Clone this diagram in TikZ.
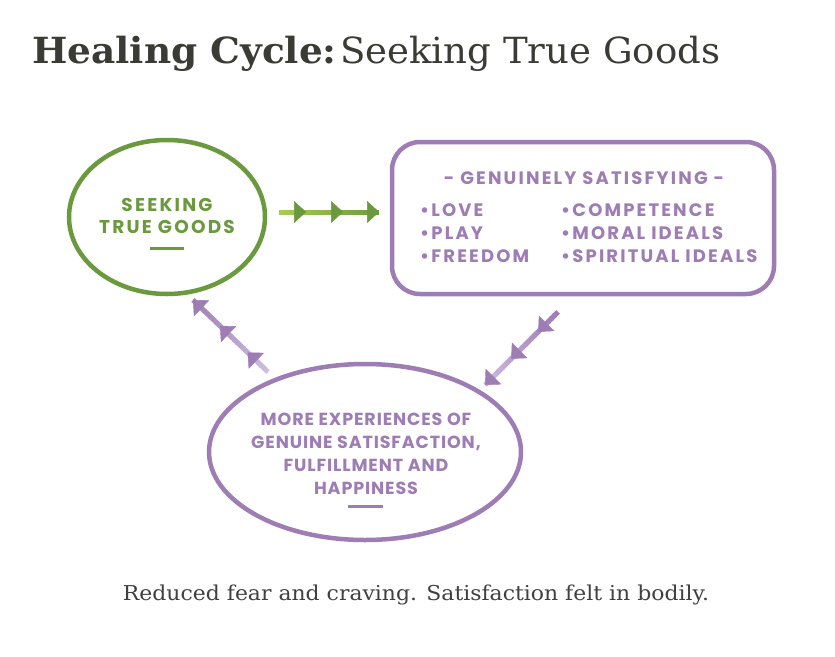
\documentclass[tikz,border=0pt]{standalone}
\usepackage{fontspec}
\setmainfont{DejaVu Serif}
\newfontfamily\titlefont{DejaVu Serif}
\newfontfamily\footfont{DejaVu Serif}
\newfontfamily\labfont{Poppins}[LetterSpace=12.0]
\newfontfamily\glabfont{Poppins}[LetterSpace=12.0]
\newfontfamily\elabfont{Poppins}[LetterSpace=5.0]
\usetikzlibrary{arrows.meta,decorations.markings,calc,shapes.geometric}
\definecolor{tgreen}{HTML}{6B9A3E}
\definecolor{lgreen}{HTML}{A8CC50}
\definecolor{tpurple}{HTML}{9E7DB5}
\definecolor{lpurple}{HTML}{CDBDE0}
\definecolor{ttitle}{HTML}{3B3B35}
\definecolor{tfoot}{HTML}{404040}
\newcommand{\gradline}[4]{%
  \foreach \k in {0,...,24}{%
    \pgfmathsetmacro{\ka}{\k/25}%
    \pgfmathsetmacro{\kb}{min(1,(\k+1.4)/25)}%
    \pgfmathtruncatemacro{\kp}{100-4*\k}%
    \draw[line width=5, draw=#3!\kp!#4] ($(#1)!\ka!(#2)$) -- ($(#1)!\kb!(#2)$);}}
\tikzset{
  green ring/.style={ellipse, draw=tgreen, line width=4.5, inner sep=0},
  purple ring/.style={ellipse, draw=tpurple, line width=4.5, inner sep=0},
  purple box/.style={draw=tpurple, line width=4.5, rounded corners=28, inner sep=0},
  lab/.style={inner sep=0, font=\labfont\bfseries\fontsize{18}{18}\selectfont},
  glab/.style={inner sep=0, text=tgreen, anchor=base, font=\glabfont\bfseries\fontsize{18.5}{18.5}\selectfont},
  plab/.style={lab, text=tpurple},
  elab/.style={inner sep=0, text=tpurple, anchor=base, font=\elabfont\bfseries\fontsize{17.5}{17.5}\selectfont},
  bar/.style={inner sep=0, minimum height=3, minimum width=34},
  heads/.style={decoration={markings,
      mark=at position 0.27 with {\arrow[#1]{Triangle[length=12,width=22,round]}},
      mark=at position 0.64 with {\arrow[#1]{Triangle[length=12,width=22,round]}},
      mark=at position 1 with {\arrow[#1]{Triangle[length=12,width=22,round]}}}, decorate},
}
\begin{document}
\begin{tikzpicture}[x=1pt,y=-1pt]
\useasboundingbox[fill=white] (0,0) rectangle (835,656);
% title
\node[anchor=base west, inner sep=0, text=ttitle, font=\titlefont\bfseries\fontsize{36}{36}\selectfont] (title1) at (32,63) {\scalebox{1.04}[1]{Healing Cycle:}};
\node[anchor=base west, inner sep=0, text=ttitle, font=\titlefont\fontsize{36}{36}\selectfont] (title2) at (340,63) {\scalebox{1.03}[1]{Seeking True Goods}};
% green ellipse
\node[green ring, minimum width=196, minimum height=154] (seek) at (167,217) {};
\node[glab] (seek1) at (167,211) {SEEKING};
\node[glab] (seek2) at (167,233) {TRUE GOODS};
\node[bar, fill=tgreen] (seekbar) at (167,248) {};
% purple box
\node[purple box, minimum width=382, minimum height=152] (box) at (583,218) {};
\node[plab, anchor=base] (boxt) at (584,184) {- GENUINELY SATISFYING -};
\node[plab, anchor=base west] (l1) at (420,216) {•LOVE};
\node[plab, anchor=base west] (l2) at (420,239) {•PLAY};
\node[plab, anchor=base west] (l3) at (420,262) {•FREEDOM};
\node[plab, anchor=base west] (r1) at (561,216) {•COMPETENCE};
\node[plab, anchor=base west] (r2) at (561,239) {•MORAL IDEALS};
\node[plab, anchor=base west] (r3) at (561,262) {•SPIRITUAL IDEALS};
% purple ellipse
\node[purple ring, minimum width=312, minimum height=176] (exp) at (365,452) {};
\node[elab] (e1) at (366,425) {MORE EXPERIENCES OF};
\node[elab] (e2) at (366,448) {GENUINE SATISFACTION,};
\node[elab] (e3) at (366,471) {FULFILLMENT AND};
\node[elab] (e4) at (366,494) {HAPPINESS};
\node[bar, fill=tpurple, minimum width=35] (expbar) at (365.5,506) {};
% arrows
\coordinate (ga) at (279,212);
\coordinate (gb) at (379,212);
\gradline{ga}{gb}{lgreen}{tgreen}
\path[heads=tgreen] (ga) -- (gb);
\coordinate (pa) at (558,312);
\coordinate (pb) at (485,385);
\gradline{pa}{pb}{tpurple}{lpurple}
\path[heads=tpurple] (pa) -- (pb);
\coordinate (qa) at (268,372);
\coordinate (qb) at (193,300);
\gradline{qa}{qb}{lpurple}{tpurple}
\path[heads=tpurple] (qa) -- (qb);
% footer
\node[anchor=base, inner sep=0, text=tfoot, font=\footfont\fontsize{20.5}{20.5}\selectfont] (foot) at (416,600) {\scalebox{1.07}[1]{Reduced fear and craving. Satisfaction felt in bodily.}};
\end{tikzpicture}
\end{document}
